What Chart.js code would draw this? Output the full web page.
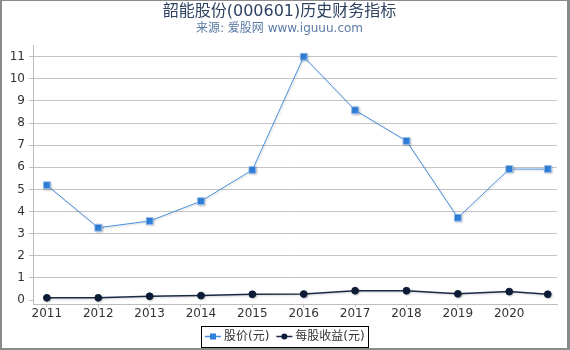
<!DOCTYPE html>
<html><head><meta charset="utf-8">
<script src="https://cdn.jsdelivr.net/npm/chart.js@4"></script>
<style>
html,body{margin:0;padding:0;background:#fff;}
#wrap{width:570px;height:350px;box-sizing:border-box;border-style:solid;border-color:#8a8a8a;border-width:1px 3px 2px 2px;background:#fff;}
canvas{display:block;}
</style></head><body>
<div id="wrap"><canvas id="c" width="565" height="347"></canvas></div>
<script>
const titleText = '韶能股份(000601)历史财务指标';
const subtitleText = '来源: 爱股网 www.iguuu.com';
const seriesNames = ['股价(元)', '每股收益(元)'];
const xTickLabels = ['2011','2012','2013','2014','2015','2016','2017','2018','2019','2020'];
const xValues = [2011, 2012, 2013, 2014, 2015, 2016, 2017, 2018, 2019, 2020, 2020.75];
const priceValues = [5.19, 3.27, 3.57, 4.47, 5.88, 11.0, 8.58, 7.19, 3.72, 5.92, 5.92];
const epsValues = [0.10, 0.10, 0.17, 0.20, 0.26, 0.27, 0.42, 0.42, 0.28, 0.38, 0.26];
const yTickLabels = ['0','1','2','3','4','5','6','7','8','9','10','11'];

const FONT = '"DejaVu Sans", "Noto Sans CJK SC", sans-serif';
Chart.defaults.font.family = FONT;
Chart.defaults.color = '#333';

const shadowPlugin = {
  id: 'shadow',
  beforeDatasetDraw(chart) { const c = chart.ctx; c.save(); c.shadowColor = 'rgba(0,0,0,0.18)'; c.shadowBlur = 2; c.shadowOffsetX = 1; c.shadowOffsetY = 1; },
  afterDatasetDraw(chart) { chart.ctx.restore(); }
};

const boxLegend = {
  id: 'boxLegend',
  afterDraw(chart) {
    const ctx = chart.ctx;
    ctx.save();
    ctx.font = '12px ' + FONT;
    const ds = chart.data.datasets;
    const mW = 16, gap = 3, itemGap = 7, padX = 3.5;
    const widths = ds.map(d => ctx.measureText(d.label).width);
    const total = widths.reduce((a, w) => a + mW + gap + w, 0) + itemGap * (ds.length - 1) + padX * 2;
    const x0 = Math.round(chart.width / 2 - total / 2) + 0.5;
    const y0 = 325.5, h = 21;
    ctx.strokeStyle = '#000'; ctx.lineWidth = 1;
    ctx.strokeRect(x0, y0, Math.round(total), h);
    const cy = 335.5;
    let x = x0 + padX;
    ds.forEach((d, i) => {
      ctx.strokeStyle = d.borderColor; ctx.lineWidth = 1.5;
      ctx.beginPath(); ctx.moveTo(x, cy); ctx.lineTo(x + mW, cy); ctx.stroke();
      ctx.fillStyle = d.pointBackgroundColor;
      const mx = x + mW / 2;
      if (d.pointStyle === 'rect') { ctx.fillRect(mx - 3, cy - 3, 6, 6); }
      else { ctx.beginPath(); ctx.arc(mx, cy, 3, 0, Math.PI * 2); ctx.fill(); }
      ctx.fillStyle = '#333'; ctx.textBaseline = 'middle'; ctx.textAlign = 'left';
      ctx.fillText(d.label, x + mW + gap, cy);
      x += mW + gap + widths[i] + itemGap;
    });
    ctx.restore();
  }
};

new Chart(document.getElementById('c'), {
  type: 'line',
  data: {
    datasets: [
      {
        label: seriesNames[0],
        data: xValues.map((x, i) => ({x: x, y: priceValues[i]})),
        borderColor: '#4a8fe0', borderWidth: 1,
        pointStyle: 'rect', pointRadius: 4.8, pointHoverRadius: 4.8,
        pointBackgroundColor: '#2f7fdb', pointBorderColor: '#8db9ec', pointBorderWidth: 1,
        tension: 0
      },
      {
        label: seriesNames[1],
        data: xValues.map((x, i) => ({x: x, y: epsValues[i]})),
        borderColor: '#1b2a44', borderWidth: 1.5,
        pointStyle: 'circle', pointRadius: 3.4, pointHoverRadius: 3.4,
        pointBackgroundColor: '#0d1d38', pointBorderColor: '#0d1d38', pointBorderWidth: 1,
        tension: 0
      }
    ]
  },
  options: {
    responsive: false,
    animation: false,
    devicePixelRatio: 1,
    layout: { padding: { left: 0, right: 10, top: 0, bottom: 24 } },
    plugins: {
      legend: { display: false },
      tooltip: { enabled: false },
      title: { display: true, text: titleText, color: '#2e4260', font: { size: 16, weight: 'normal' }, padding: { top: 1, bottom: 0 } },
      subtitle: { display: true, text: subtitleText, color: '#5a7ba5', font: { size: 12, weight: 'normal' }, padding: { top: 0, bottom: 9.4 } }
    },
    scales: {
      x: {
        type: 'linear', min: 2010.73, max: 2020.93,
        afterBuildTicks: s => { s.ticks = xTickLabels.map(v => ({value: Number(v)})); },
        ticks: { callback: (v, i) => xTickLabels[i], autoSkip: false, maxRotation: 0, padding: 0, color: '#333', font: { size: 12 } },
        grid: { drawOnChartArea: false, drawTicks: true, tickLength: 3, color: '#bdbdbd' },
        border: { color: '#bdbdbd' },
        afterFit: s => { s.height = 20; }
      },
      y: {
        type: 'linear', min: -0.18, max: 11.53,
        afterBuildTicks: s => { s.ticks = yTickLabels.map(v => ({value: Number(v)})); },
        ticks: { callback: (v, i) => yTickLabels[i], padding: 4, color: '#333', font: { size: 12 } },
        grid: { color: c => (c.tick && c.tick.value === 0) ? 'rgba(0,0,0,0)' : '#c4c4c4', tickColor: '#bdbdbd', tickLength: 4 },
        border: { color: '#bdbdbd' },
        afterFit: s => { s.width = 31; }
      }
    }
  },
  plugins: [shadowPlugin, boxLegend]
});
</script>
</body></html>
